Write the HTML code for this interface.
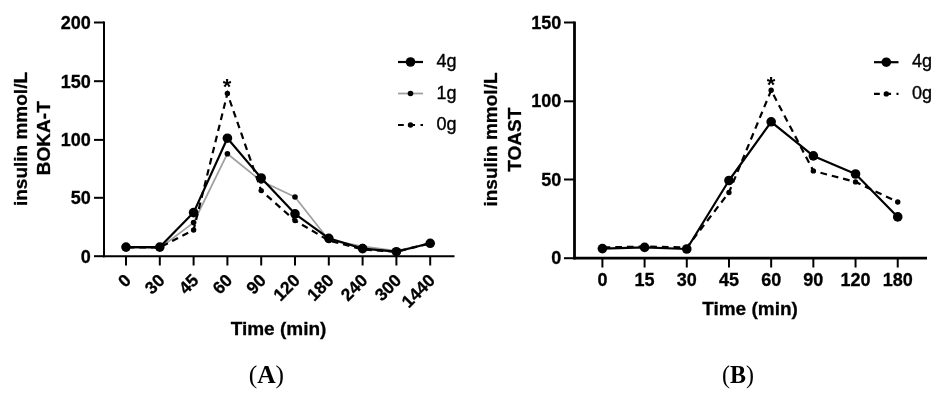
<!DOCTYPE html>
<html><head><meta charset="utf-8"><style>
html,body{margin:0;padding:0;background:#fff;width:946px;height:400px;overflow:hidden}
svg{display:block}
.ax{stroke:#000;stroke-width:2;fill:none}
.axb{stroke:#000;stroke-width:2.8;fill:none}
.l4{stroke:#000;stroke-width:2.2;fill:none;stroke-linejoin:round}
.l1{stroke:#a0a0a0;stroke-width:1.8;fill:none;stroke-linejoin:round}
.l0{stroke:#000;stroke-width:2.2;fill:none}
.tb{font-family:"Liberation Sans",sans-serif;font-weight:bold;font-size:18px;fill:#000;stroke:#000;stroke-width:0.3}
.tt{font-family:"Liberation Sans",sans-serif;font-weight:bold;font-size:19px;fill:#000;stroke:#000;stroke-width:0.3}
.tr{font-size:17.4px}
.lg{font-family:"Liberation Sans",sans-serif;font-size:18px;fill:#000;stroke:#000;stroke-width:0.35}
.ast{font-family:"Liberation Sans",sans-serif;font-weight:bold;font-size:22px;fill:#000}
.cap{font-family:"Liberation Serif",serif;font-size:25.5px;fill:#000}
</style></head><body>
<svg width="946" height="400" viewBox="0 0 946 400">
<line x1="104" y1="21.5" x2="104" y2="257.2" class="ax"/>
<line x1="103" y1="256.2" x2="454.5" y2="256.2" class="ax"/>
<line x1="94" y1="256.20" x2="104" y2="256.20" class="ax"/>
<text x="90.8" y="262.60" class="tb" text-anchor="end">0</text>
<line x1="94" y1="197.80" x2="104" y2="197.80" class="ax"/>
<text x="90.8" y="204.20" class="tb" text-anchor="end">50</text>
<line x1="94" y1="139.90" x2="104" y2="139.90" class="ax"/>
<text x="90.8" y="146.30" class="tb" text-anchor="end">100</text>
<line x1="94" y1="81.20" x2="104" y2="81.20" class="ax"/>
<text x="90.8" y="87.60" class="tb" text-anchor="end">150</text>
<line x1="94" y1="22.50" x2="104" y2="22.50" class="ax"/>
<text x="90.8" y="28.90" class="tb" text-anchor="end">200</text>
<line x1="126.00" y1="256.2" x2="126.00" y2="265.5" class="ax"/>
<text x="132.00" y="281.5" class="tb tr" text-anchor="end" transform="rotate(-45 132.00 281.5)">0</text>
<line x1="159.80" y1="256.2" x2="159.80" y2="265.5" class="ax"/>
<text x="165.80" y="281.5" class="tb tr" text-anchor="end" transform="rotate(-45 165.80 281.5)">30</text>
<line x1="193.60" y1="256.2" x2="193.60" y2="265.5" class="ax"/>
<text x="199.60" y="281.5" class="tb tr" text-anchor="end" transform="rotate(-45 199.60 281.5)">45</text>
<line x1="227.40" y1="256.2" x2="227.40" y2="265.5" class="ax"/>
<text x="233.40" y="281.5" class="tb tr" text-anchor="end" transform="rotate(-45 233.40 281.5)">60</text>
<line x1="261.20" y1="256.2" x2="261.20" y2="265.5" class="ax"/>
<text x="267.20" y="281.5" class="tb tr" text-anchor="end" transform="rotate(-45 267.20 281.5)">90</text>
<line x1="295.00" y1="256.2" x2="295.00" y2="265.5" class="ax"/>
<text x="301.00" y="281.5" class="tb tr" text-anchor="end" transform="rotate(-45 301.00 281.5)">120</text>
<line x1="328.80" y1="256.2" x2="328.80" y2="265.5" class="ax"/>
<text x="334.80" y="281.5" class="tb tr" text-anchor="end" transform="rotate(-45 334.80 281.5)">180</text>
<line x1="362.60" y1="256.2" x2="362.60" y2="265.5" class="ax"/>
<text x="368.60" y="281.5" class="tb tr" text-anchor="end" transform="rotate(-45 368.60 281.5)">240</text>
<line x1="396.40" y1="256.2" x2="396.40" y2="265.5" class="ax"/>
<text x="402.40" y="281.5" class="tb tr" text-anchor="end" transform="rotate(-45 402.40 281.5)">300</text>
<line x1="430.20" y1="256.2" x2="430.20" y2="265.5" class="ax"/>
<text x="436.20" y="281.5" class="tb tr" text-anchor="end" transform="rotate(-45 436.20 281.5)">1440</text>
<polyline points="126.00,247.50 159.80,248.00 193.60,222.60 227.40,153.70 261.20,181.00 295.00,197.00 328.80,240.00 362.60,246.50 396.40,251.00 430.20,243.30" class="l1"/>
<circle cx="126.00" cy="247.5" r="2.8" fill="#000"/>
<circle cx="159.80" cy="248" r="2.8" fill="#000"/>
<circle cx="193.60" cy="222.6" r="2.8" fill="#000"/>
<circle cx="227.40" cy="153.7" r="2.8" fill="#000"/>
<circle cx="261.20" cy="181" r="2.8" fill="#000"/>
<circle cx="295.00" cy="197" r="2.8" fill="#000"/>
<circle cx="328.80" cy="240" r="2.8" fill="#000"/>
<circle cx="362.60" cy="246.5" r="2.8" fill="#000"/>
<circle cx="396.40" cy="251" r="2.8" fill="#000"/>
<circle cx="430.20" cy="243.3" r="2.8" fill="#000"/>
<polyline points="126.00,247.50 159.80,247.50 193.60,230.00 227.40,93.50 261.20,190.60 295.00,220.60 328.80,240.50 362.60,249.50 396.40,251.70 430.20,243.30" class="l0" stroke-dasharray="6.6 4.86" stroke-dashoffset="-1.9"/>
<circle cx="126.00" cy="247.5" r="2.7" fill="#000"/>
<circle cx="159.80" cy="247.5" r="2.7" fill="#000"/>
<circle cx="193.60" cy="230" r="2.7" fill="#000"/>
<circle cx="227.40" cy="93.5" r="2.7" fill="#000"/>
<circle cx="261.20" cy="190.6" r="2.7" fill="#000"/>
<circle cx="295.00" cy="220.6" r="2.7" fill="#000"/>
<circle cx="328.80" cy="240.5" r="2.7" fill="#000"/>
<circle cx="362.60" cy="249.5" r="2.7" fill="#000"/>
<circle cx="396.40" cy="251.7" r="2.7" fill="#000"/>
<circle cx="430.20" cy="243.3" r="2.7" fill="#000"/>
<polyline points="126.00,247.10 159.80,247.10 193.60,212.60 227.40,138.20 261.20,178.00 295.00,213.80 328.80,238.30 362.60,248.60 396.40,251.70 430.20,243.30" class="l4"/>
<circle cx="126.00" cy="247.1" r="4.8" fill="#000"/>
<circle cx="159.80" cy="247.1" r="4.8" fill="#000"/>
<circle cx="193.60" cy="212.6" r="4.8" fill="#000"/>
<circle cx="227.40" cy="138.2" r="4.8" fill="#000"/>
<circle cx="261.20" cy="178" r="4.8" fill="#000"/>
<circle cx="295.00" cy="213.8" r="4.8" fill="#000"/>
<circle cx="328.80" cy="238.3" r="4.8" fill="#000"/>
<circle cx="362.60" cy="248.6" r="4.8" fill="#000"/>
<circle cx="396.40" cy="251.7" r="4.8" fill="#000"/>
<circle cx="430.20" cy="243.3" r="4.8" fill="#000"/>
<text x="227" y="94.2" class="ast" text-anchor="middle">*</text>
<line x1="398" y1="62" x2="423" y2="62" class="l4"/>
<circle cx="410.5" cy="62" r="4.8" fill="#000"/>
<text x="436.5" y="67.1" class="lg">4g</text>
<line x1="398" y1="93.5" x2="423" y2="93.5" class="l1"/>
<circle cx="410.5" cy="93.5" r="2.8" fill="#000"/>
<text x="436.5" y="98.6" class="lg">1g</text>
<line x1="398" y1="125" x2="423" y2="125" class="l0" stroke-dasharray="5.8 5.45"/>
<circle cx="410.5" cy="125" r="2.7" fill="#000"/>
<text x="436.5" y="130.1" class="lg">0g</text>
<text transform="translate(26.7 139) rotate(-90)" class="tt" text-anchor="middle">insulin mmol/L</text>
<text transform="translate(49.9 138.2) rotate(-90)" class="tt" text-anchor="middle">BOKA-T</text>
<text x="278.5" y="334.7" class="tt" text-anchor="middle">Time (min)</text>
<line x1="574.5" y1="21.5" x2="574.5" y2="259.4" class="axb"/>
<line x1="573.5" y1="258.2" x2="927" y2="258.2" class="axb"/>
<line x1="564" y1="258.20" x2="574.5" y2="258.20" class="ax"/>
<text x="561.2" y="264.20" class="tb" text-anchor="end">0</text>
<line x1="564" y1="179.50" x2="574.5" y2="179.50" class="ax"/>
<text x="561.2" y="185.50" class="tb" text-anchor="end">50</text>
<line x1="564" y1="101.30" x2="574.5" y2="101.30" class="ax"/>
<text x="561.2" y="107.30" class="tb" text-anchor="end">100</text>
<line x1="564" y1="22.50" x2="574.5" y2="22.50" class="ax"/>
<text x="561.2" y="28.50" class="tb" text-anchor="end">150</text>
<line x1="602.40" y1="258.2" x2="602.40" y2="267.5" class="ax"/>
<text x="602.40" y="286" class="tb" text-anchor="middle">0</text>
<line x1="644.59" y1="258.2" x2="644.59" y2="267.5" class="ax"/>
<text x="644.59" y="286" class="tb" text-anchor="middle">15</text>
<line x1="686.78" y1="258.2" x2="686.78" y2="267.5" class="ax"/>
<text x="686.78" y="286" class="tb" text-anchor="middle">30</text>
<line x1="728.97" y1="258.2" x2="728.97" y2="267.5" class="ax"/>
<text x="728.97" y="286" class="tb" text-anchor="middle">45</text>
<line x1="771.16" y1="258.2" x2="771.16" y2="267.5" class="ax"/>
<text x="771.16" y="286" class="tb" text-anchor="middle">60</text>
<line x1="813.35" y1="258.2" x2="813.35" y2="267.5" class="ax"/>
<text x="813.35" y="286" class="tb" text-anchor="middle">90</text>
<line x1="855.54" y1="258.2" x2="855.54" y2="267.5" class="ax"/>
<text x="855.54" y="286" class="tb" text-anchor="middle">120</text>
<line x1="897.73" y1="258.2" x2="897.73" y2="267.5" class="ax"/>
<text x="897.73" y="286" class="tb" text-anchor="middle">180</text>
<polyline points="602.40,247.50 644.59,246.50 686.78,247.50 728.97,192.50 771.16,90.30 813.35,170.90 855.54,181.90 897.73,202.00" class="l0" stroke-dasharray="6.7 4.96" stroke-dashoffset="-1.2"/>
<circle cx="602.40" cy="247.5" r="2.7" fill="#000"/>
<circle cx="644.59" cy="246.5" r="2.7" fill="#000"/>
<circle cx="686.78" cy="247.5" r="2.7" fill="#000"/>
<circle cx="728.97" cy="192.5" r="2.7" fill="#000"/>
<circle cx="771.16" cy="90.3" r="2.7" fill="#000"/>
<circle cx="813.35" cy="170.9" r="2.7" fill="#000"/>
<circle cx="855.54" cy="181.9" r="2.7" fill="#000"/>
<circle cx="897.73" cy="202" r="2.7" fill="#000"/>
<polyline points="602.40,248.60 644.59,247.40 686.78,249.00 728.97,180.50 771.16,121.80 813.35,155.90 855.54,174.00 897.73,216.90" class="l4"/>
<circle cx="602.40" cy="248.6" r="4.8" fill="#000"/>
<circle cx="644.59" cy="247.4" r="4.8" fill="#000"/>
<circle cx="686.78" cy="249" r="4.8" fill="#000"/>
<circle cx="728.97" cy="180.5" r="4.8" fill="#000"/>
<circle cx="771.16" cy="121.8" r="4.8" fill="#000"/>
<circle cx="813.35" cy="155.9" r="4.8" fill="#000"/>
<circle cx="855.54" cy="174" r="4.8" fill="#000"/>
<circle cx="897.73" cy="216.9" r="4.8" fill="#000"/>
<text x="771" y="92.4" class="ast" text-anchor="middle">*</text>
<line x1="874" y1="62.2" x2="898.5" y2="62.2" class="l4"/>
<circle cx="886.3" cy="62.2" r="4.8" fill="#000"/>
<text x="912" y="67.3" class="lg">4g</text>
<line x1="874" y1="93.9" x2="898.5" y2="93.9" class="l0" stroke-dasharray="5.8 5.45"/>
<circle cx="886.3" cy="93.9" r="2.7" fill="#000"/>
<text x="912" y="99.0" class="lg">0g</text>
<text transform="translate(496.9 139.5) rotate(-90)" class="tt" text-anchor="middle">insulin mmol/L</text>
<text transform="translate(520.5 139.7) rotate(-90)" class="tt" text-anchor="middle">TOAST</text>
<text x="750" y="314.8" class="tt" text-anchor="middle">Time (min)</text>
<text x="266.4" y="382.8" class="cap" text-anchor="middle">(<tspan font-weight="bold">A</tspan>)</text>
<text x="722" y="382.8" class="cap" textLength="32" lengthAdjust="spacingAndGlyphs">(<tspan font-weight="bold">B</tspan>)</text>
</svg>
</body></html>
